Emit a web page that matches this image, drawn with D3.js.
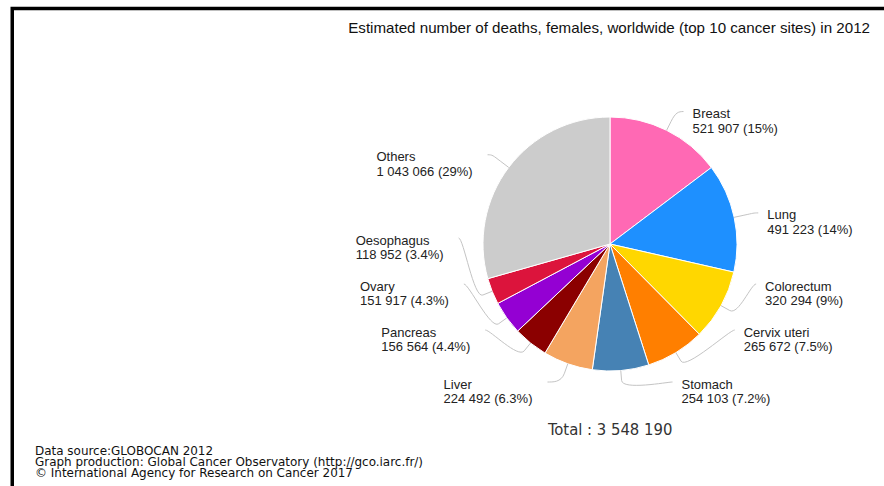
<!DOCTYPE html>
<html>
<head>
<meta charset="utf-8">
<script src="https://cdn.jsdelivr.net/npm/d3@7"></script>
<style>
  html, body { margin: 0; padding: 0; background: #fff; overflow: hidden; }
  svg { display: block; }
</style>
</head>
<body>
<svg id="chart" width="884" height="486"></svg>
<script>
// Cancer sites, clockwise from 12 o'clock
const sites = ["Breast", "Lung", "Colorectum", "Cervix uteri", "Stomach",
               "Liver", "Pancreas", "Ovary", "Oesophagus", "Others"];
// Estimated deaths, females, worldwide, 2012
const deaths = [521907, 491223, 320294, 265672, 254103,
                224492, 156564, 151917, 118952, 1043066];
const siteColors = ["#ff69b4", "#1e90ff", "#ffd700", "#ff7f00", "#4682b4",
                    "#f4a460", "#8b0000", "#9400d3", "#dc143c", "#cccccc"];
const titleText = "Estimated number of deaths, females, worldwide (top 10 cancer sites) in 2012";
const creditLines = [
  "Data source:GLOBOCAN 2012",
  "Graph production: Global Cancer Observatory (http://gco.iarc.fr/)",
  "\u00a9 International Agency for Research on Cancer 2017"
];

const svg = d3.select("#chart");
const W = 884, H = 486;
const cx = 610, cy = 244, radius = 127;

const labelFont = "'Liberation Sans', Arial, Helvetica, sans-serif";
const condFont = "'DejaVu Sans Condensed', 'DejaVu Sans', sans-serif";

// numbers grouped by thousands with spaces
const fmtNum = v => d3.format(",")(v).replace(/,/g, " ");
const total = d3.sum(deaths);
const fmtPct = v => {
  const p = v / total * 100;
  if (p >= 10) return Math.round(p) + "%";
  const s = (Math.round(p * 10) / 10).toFixed(1).replace(/\.0$/, "");
  return s + "%";
};

// frame
svg.append("path")
  .attr("d", `M12.25,${H + 5} V8.6 H${W + 5}`)
  .attr("fill", "none")
  .attr("stroke", "#000")
  .attr("stroke-width", 3.5);

// title
svg.append("text")
  .attr("x", 870).attr("y", 32.5)
  .attr("text-anchor", "end")
  .attr("font-family", labelFont)
  .attr("font-size", 15.15)
  .attr("fill", "#111")
  .text(titleText);

// pie
const pie = d3.pie().sort(null).value(d => d).startAngle(0).endAngle(2 * Math.PI);
const arcs = pie(deaths);
const arcGen = d3.arc().innerRadius(0).outerRadius(radius);

const g = svg.append("g").attr("transform", `translate(${cx},${cy})`);
g.selectAll("path.slice")
  .data(arcs)
  .join("path")
  .attr("class", "slice")
  .attr("d", arcGen)
  .attr("fill", (d, i) => siteColors[i])
  .attr("stroke", "#fff")
  .attr("stroke-width", 1)
  .attr("stroke-linejoin", "round");

// label layout: natural position on an outer ring, then stacked per side
const ringY = 148, ringX = 151.5, gap = 46, bottomEdge = 382, stackEdge = 376;
const labels = arcs.map((a, i) => {
  const mid = (a.startAngle + a.endAngle) / 2;
  return {
    i, mid,
    right: Math.sin(mid) >= 0,
    y: cy - ringY * Math.cos(mid)
  };
});
[true, false].forEach(side => {
  const list = labels.filter(l => l.right === side).sort((a, b) => b.y - a.y);
  let prev = null;
  list.forEach(l => {
    if (prev === null) l.y = Math.min(l.y, bottomEdge);
    else l.y = Math.min(l.y, Math.min(prev, stackEdge) - gap);
    prev = l.y;
  });
});

const connectors = svg.append("g");
const texts = svg.append("g");

labels.forEach(l => {
  const dy = l.y - cy;
  const half = Math.sqrt(Math.max(0, ringX * ringX - dy * dy));
  const ex = l.right ? cx + half : cx - half;
  const sx = Math.sin(l.mid), sy = -Math.cos(l.mid);
  const touch = [cx + radius * sx, cy + radius * sy];
  const brk = [cx + (radius + 10) * sx, cy + (radius + 10) * sy];
  const c1 = [ex + (l.right ? -5 : 5), l.y];
  const c2 = [2 * brk[0] - touch[0], 2 * brk[1] - touch[1]];
  connectors.append("path")
    .attr("d", `M${ex},${l.y} C${c1[0]},${c1[1]} ${c2[0]},${c2[1]} ${brk[0]},${brk[1]} L${touch[0]},${touch[1]}`)
    .attr("fill", "none")
    .attr("stroke", "#c4c4c4")
    .attr("stroke-width", 1);

  const t = texts.append("text")
    .attr("font-family", labelFont)
    .attr("font-size", 13)
    .attr("fill", "#222");
  const line1 = t.append("tspan").attr("y", l.y + 6.5).text(sites[l.i]);
  const line2 = t.append("tspan").attr("y", l.y + 21).text(`${fmtNum(deaths[l.i])} (${fmtPct(deaths[l.i])})`);
  let tx;
  if (l.right) {
    tx = ex + 9;
  } else {
    const w = Math.max(line1.node().getComputedTextLength(), line2.node().getComputedTextLength());
    tx = ex - 15 - w;
  }
  line1.attr("x", tx);
  line2.attr("x", tx);
});

// total
svg.append("text")
  .attr("x", 548).attr("y", 435)
  .attr("font-family", condFont)
  .attr("font-size", 16.5)
  .attr("fill", "#333")
  .text("Total : " + fmtNum(total));

// credits: compact lines, slightly widened
svg.append("g")
  .attr("transform", "translate(35,0) scale(1.11,1)")
  .selectAll("text")
  .data(creditLines)
  .join("text")
  .attr("x", 0)
  .attr("y", (d, i) => 455 + i * 11)
  .attr("font-family", condFont)
  .attr("font-size", 12)
  .attr("fill", "#111")
  .text(d => d);
</script>
</body>
</html>
